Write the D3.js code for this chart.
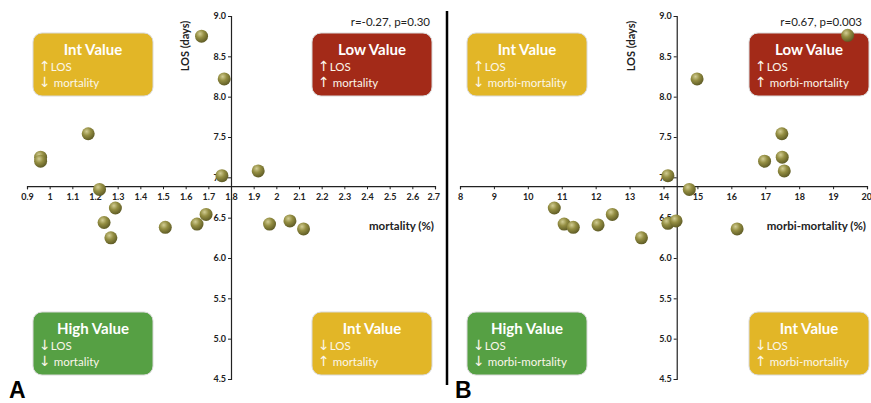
<!DOCTYPE html>
<html>
<head>
<meta charset="utf-8">
<script src="https://cdn.jsdelivr.net/npm/d3@7"></script>
<style>
  body { margin: 0; background: #fff; }
  svg { display: block; font-family: Lato, "Open Sans", sans-serif; }
</style>
</head>
<body>
<svg id="chart" width="871" height="403"></svg>
<script>
// Panel A: mortality vs LOS
const mortality = [1.67, 1.77, 1.17, 0.96, 0.96, 1.92, 1.76, 1.22, 1.29, 1.24, 1.27, 1.51, 1.65, 1.69, 1.97, 2.06, 2.12];
const losA      = [8.75, 8.22, 7.54, 7.25, 7.20, 7.08, 7.02, 6.85, 6.62, 6.44, 6.25, 6.38, 6.42, 6.54, 6.42, 6.46, 6.36];

// Panel B: morbi-mortality vs LOS
const morbiMortality = [19.43, 14.99, 17.49, 17.50, 16.98, 17.56, 14.13, 14.76, 10.78, 12.49, 11.07, 11.34, 12.07, 13.35, 14.13, 14.37, 16.17];
const losB           = [8.76, 8.22, 7.54, 7.25, 7.20, 7.08, 7.02, 6.85, 6.62, 6.54, 6.42, 6.38, 6.41, 6.25, 6.43, 6.46, 6.36];

const mortalityTicks = [0.9, 1, 1.1, 1.2, 1.3, 1.4, 1.5, 1.6, 1.7, 1.8, 1.9, 2, 2.1, 2.2, 2.3, 2.4, 2.5, 2.6, 2.7];
const morbiTicks = [8, 9, 10, 11, 12, 13, 14, 15, 16, 17, 18, 19, 20];
const losTicks = [4.5, 5.0, 5.5, 6.0, 6.5, 7.0, 7.5, 8.0, 8.5, 9.0];

// quadrant annotations
const quadTitles = ["Int Value", "Low Value", "High Value", "Int Value"];
const quadArrows = [["↑", "↓"], ["↑", "↑"], ["↓", "↓"], ["↓", "↑"]];

const colors = {
  "Int Value": "#e2b627",
  "Low Value": "#a32a18",
  "High Value": "#56a044"
};

const svg = d3.select("#chart");

// sphere-like marker fill
const grad = svg.append("defs").append("radialGradient")
  .attr("id", "ball")
  .attr("cx", "38%").attr("cy", "32%").attr("r", "70%");
grad.append("stop").attr("offset", "0%").attr("stop-color", "#d2cd94");
grad.append("stop").attr("offset", "45%").attr("stop-color", "#948e42");
grad.append("stop").attr("offset", "100%").attr("stop-color", "#5d5a25");

const y = d3.scaleLinear().domain([4.5, 9]).range([379, 16]);
const xCross = 6.89;

const panels = [
  {
    xs: mortality, ys: losA, ticks: mortalityTicks,
    x: d3.scaleLinear().domain([0.9, 2.7]).range([27, 435]),
    yAt: 1.8, xLabel: "mortality (%)", stat: "r=-0.27, p=0.30",
    measure: "mortality", boxX: [33, 312], letter: "A", letterX: 9
  },
  {
    xs: morbiMortality, ys: losB, ticks: morbiTicks,
    x: d3.scaleLinear().domain([8, 20]).range([460, 867]),
    yAt: 14.39, xLabel: "morbi-mortality (%)", stat: "r=0.67, p=0.003",
    measure: "morbi-mortality", boxX: [467, 749], letter: "B", letterX: 455
  }
];

panels.forEach(p => {
  const g = svg.append("g");
  const x0 = p.x(p.yAt);
  const y0 = y(xCross);

  // quadrant boxes
  const boxPos = [[p.boxX[0], 33], [p.boxX[1], 33], [p.boxX[0], 312], [p.boxX[1], 312]];
  boxPos.forEach((pos, i) => {
    const b = g.append("g").attr("transform", `translate(${pos[0]},${pos[1]})`);
    b.append("rect")
      .attr("width", 120).attr("height", 63)
      .attr("rx", 9)
      .attr("fill", colors[quadTitles[i]])
      .attr("stroke", "#d9d9d9").attr("stroke-width", 1);
    b.append("text")
      .attr("x", 60).attr("y", 22)
      .attr("text-anchor", "middle")
      .attr("fill", "#fff")
      .style("font-size", "15px").style("font-weight", "bold")
      .text(quadTitles[i]);
    const l1 = b.append("text").attr("x", 6).attr("y", 38)
      .attr("fill", "#fbf6ea").style("font-size", "11.5px");
    l1.append("tspan").style("font-family", "DejaVu Sans").style("font-size", "14px").text(quadArrows[i][0]);
    l1.append("tspan").text("LOS");
    const l2 = b.append("text").attr("x", 6).attr("y", 54)
      .attr("fill", "#fbf6ea").style("font-size", "11.5px");
    l2.append("tspan").style("font-family", "DejaVu Sans").style("font-size", "14px").text(quadArrows[i][1]);
    l2.append("tspan").text(" " + p.measure);
  });

  // x axis
  const xAxis = g.append("g")
    .attr("transform", `translate(0,${y0})`)
    .call(d3.axisBottom(p.x).tickValues(p.ticks).tickSize(3).tickFormat(d3.format("")));
  xAxis.select(".domain").attr("stroke", "#222").attr("stroke-width", 1.2);
  xAxis.selectAll(".tick line").attr("stroke", "#222");
  xAxis.selectAll(".tick text")
    .attr("fill", "#222").attr("dy", "0.85em")
    .style("font-size", "9px").style("font-weight", "bold")
    .style("font-family", "Lato, sans-serif");
  // keep the last label inside the window
  xAxis.selectAll(".tick text").filter((d, i, n) => i === n.length - 1)
    .attr("text-anchor", "end").attr("dx", "0.5em");

  // y axis
  const yAxis = g.append("g")
    .attr("transform", `translate(${x0},0)`)
    .call(d3.axisLeft(y).tickValues(losTicks).tickSize(3).tickFormat(d3.format(".1f")));
  yAxis.select(".domain").attr("stroke", "#222").attr("stroke-width", 1.2);
  yAxis.selectAll(".tick line").attr("stroke", "#222");
  yAxis.selectAll(".tick text")
    .attr("fill", "#222").attr("x", -5)
    .style("font-size", "9px").style("font-weight", "bold")
    .style("font-family", "Lato, sans-serif");

  // axis titles
  g.append("text")
    .attr("transform", `translate(${x0 - 42},46) rotate(-90)`)
    .attr("text-anchor", "middle")
    .attr("fill", "#222")
    .style("font-size", "11px").style("font-weight", "bold")
    .text("LOS (days)");
  g.append("text")
    .attr("x", p.x.range()[1] - 1).attr("y", 230)
    .attr("text-anchor", "end")
    .attr("fill", "#222")
    .style("font-size", "11.5px").style("font-weight", "bold")
    .text(p.xLabel);

  g.append("text")
    .attr("x", p.x.range()[1] - 5).attr("y", 26)
    .attr("text-anchor", "end")
    .attr("fill", "#222")
    .style("font-size", "11.5px")
    .text(p.stat);

  // points
  g.selectAll("circle")
    .data(p.xs.map((v, i) => [v, p.ys[i]]))
    .enter()
    .append("circle")
    .attr("cx", d => p.x(d[0]))
    .attr("cy", d => y(d[1]))
    .attr("r", 6.5)
    .attr("fill", "url(#ball)");

  svg.append("text")
    .attr("x", p.letterX).attr("y", 398)
    .attr("fill", "#000")
    .style("font-family", "Liberation Sans, Arial, sans-serif")
    .style("font-size", "23px").style("font-weight", "bold")
    .text(p.letter);
});

// separator between panels
svg.append("line")
  .attr("x1", 447).attr("x2", 447)
  .attr("y1", 11).attr("y2", 385)
  .attr("stroke", "#000").attr("stroke-width", 2.5);
</script>
</body>
</html>
